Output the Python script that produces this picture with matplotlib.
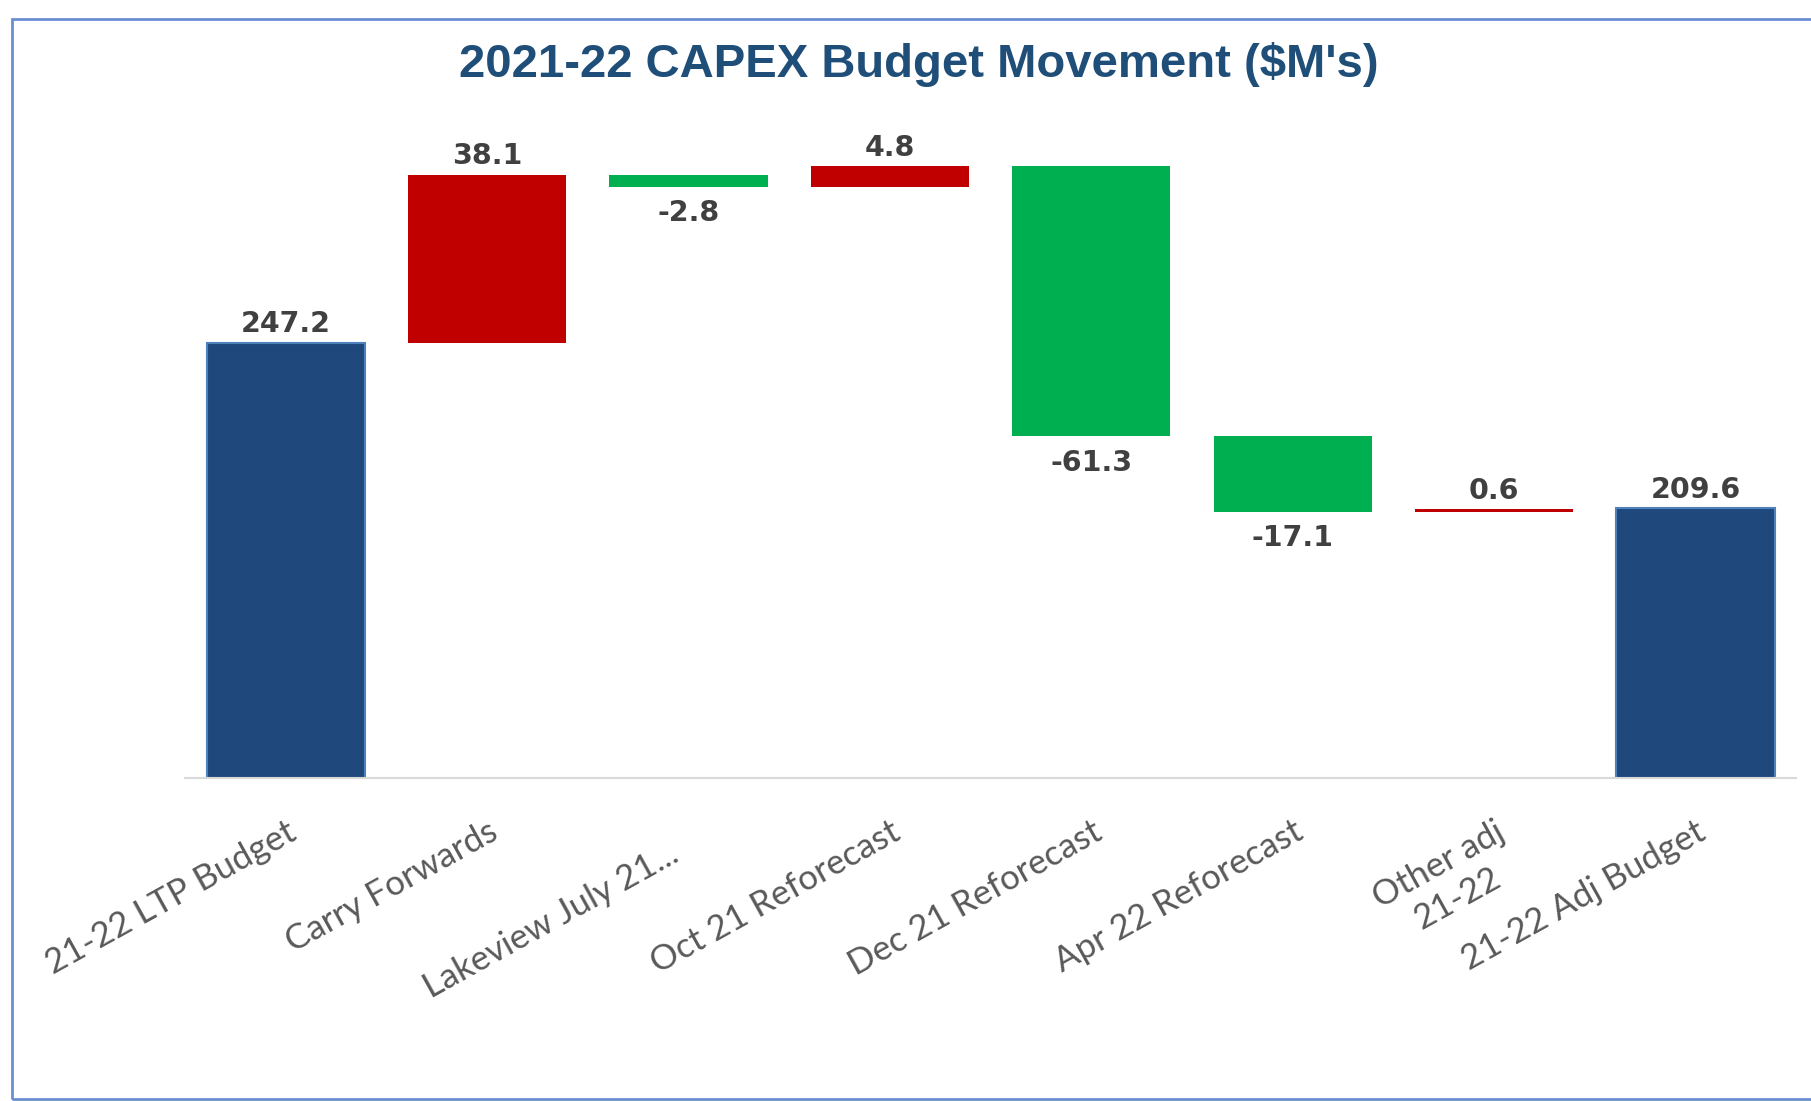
import matplotlib.pyplot as plt
from matplotlib.patches import Rectangle
from matplotlib.transforms import ScaledTranslation

categories = ['21-22 LTP Budget', 'Carry Forwards', 'Lakeview July 21...',
              'Oct 21 Reforecast', 'Dec 21 Reforecast', 'Apr 22 Reforecast',
              'Other adj\n21-22', '21-22 Adj Budget']
values = [247.2, 38.1, -2.8, 4.8, -61.3, -17.1, 0.6, 209.6]
is_total = [True, False, False, False, False, False, False, True]

blue = '#1F497D'
red = '#C00000'
green = '#00B050'

# waterfall bottoms / heights
bottoms, heights, colors = [], [], []
running = 0
for v, tot in zip(values, is_total):
    if tot:
        bottoms.append(0)
        heights.append(v)
        colors.append(blue)
        running = v
    else:
        bottoms.append(running if v > 0 else running + v)
        heights.append(abs(v))
        colors.append(red if v > 0 else green)
        running += v

fig = plt.figure(figsize=(18.11, 11.01), dpi=100)
ax = fig.add_axes([0.1022, 0.2934, 0.8896, 0.6158])

x = range(len(categories))
edges = ['#4F81BD' if t else 'none' for t in is_total]
ax.bar(x, heights, bottom=bottoms, width=0.785, color=colors,
       edgecolor=edges, linewidth=1.5)

for i, v in enumerate(values):
    top = bottoms[i] + heights[i]
    if v >= 0:
        ax.annotate(f'{v:.1f}', (i, top), xytext=(0, 3), textcoords='offset points',
                    ha='center', va='bottom', fontsize=20.5, fontweight='bold',
                    color='#404040', family='DejaVu Sans')
    else:
        ax.annotate(f'{v:.1f}', (i, bottoms[i]), xytext=(0, -9), textcoords='offset points',
                    ha='center', va='top', fontsize=20.5, fontweight='bold',
                    color='#404040', family='DejaVu Sans')

# axis does not start at zero in the original
ax.set_xlim(-0.5, len(categories) - 0.5)
ax.set_ylim(148.5, 302.2)
ax.set_yticks([])
for s in ['top', 'right', 'left']:
    ax.spines[s].set_visible(False)
ax.spines['bottom'].set_color('#D9D9D9')
ax.spines['bottom'].set_linewidth(1.5)

ax.set_xticks(list(x))
ax.set_xticklabels(categories, rotation=29, ha='right', va='top',
                   rotation_mode='anchor', fontsize=25, color='#595959',
                   family='Lato', multialignment='center', linespacing=1.25)
ax.tick_params(axis='x', length=0, pad=27)

# the truncated label sits a bit lower in the original
lab = ax.get_xticklabels()[2]
lab.set_transform(lab.get_transform() + ScaledTranslation(-0.2, -0.22, fig.dpi_scale_trans))

fig.text(0.5075, 0.941, "2021-22 CAPEX Budget Movement ($M's)", ha='center', va='center',
         fontsize=34, fontweight='bold', color='#1F4E79', family='Liberation Sans')

# chart frame
fig.patches.append(Rectangle((12 / 1811, 2 / 1101), 1.0, 1 - 21 / 1101,
                             transform=fig.transFigure, fill=False,
                             edgecolor='#6A8FD0', linewidth=2))

fig.savefig('out.png', dpi=100)
